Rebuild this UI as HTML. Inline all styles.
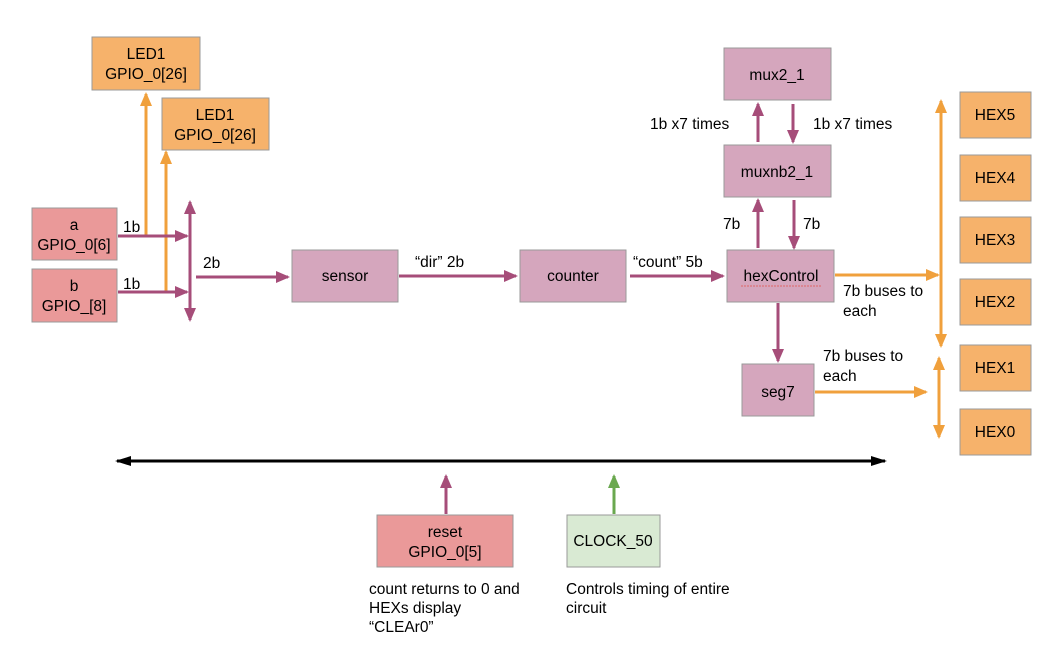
<!DOCTYPE html>
<html><head><style>body{margin:0;background:#fff}svg{display:block}text{font-family:"Liberation Sans",Arial,sans-serif;font-size:15.5px;fill:#000}</style></head><body>
<svg width="1048" height="658" viewBox="0 0 1048 658">
<defs>
<marker id="p" markerWidth="14" markerHeight="14" refX="12" refY="7" orient="auto-start-reverse" markerUnits="userSpaceOnUse" viewBox="0 0 14 14"><path d="M0,1 L14,7 L0,13 z" fill="#a64d79"/></marker>
<marker id="o" markerWidth="14" markerHeight="14" refX="12" refY="7" orient="auto-start-reverse" markerUnits="userSpaceOnUse" viewBox="0 0 14 14"><path d="M0,1 L14,7 L0,13 z" fill="#f0a03c"/></marker>
<marker id="k" markerWidth="16" markerHeight="14" refX="14" refY="7" orient="auto-start-reverse" markerUnits="userSpaceOnUse" viewBox="0 0 16 14"><path d="M0,2 L16,7 L0,12 z" fill="#000"/></marker>
<marker id="g" markerWidth="14" markerHeight="14" refX="12" refY="7" orient="auto-start-reverse" markerUnits="userSpaceOnUse" viewBox="0 0 14 14"><path d="M0,1 L14,7 L0,13 z" fill="#6aa84f"/></marker>
</defs>
<g stroke="#999" stroke-width="1">
<rect x="92" y="37" width="108" height="53" fill="#f6b26b"/>
<rect x="162" y="98" width="107" height="52" fill="#f6b26b"/>
<rect x="32" y="208" width="85" height="52" fill="#ea9999"/>
<rect x="32" y="269" width="85" height="53" fill="#ea9999"/>
<rect x="292" y="250" width="106" height="52" fill="#d5a6bd"/>
<rect x="520" y="250" width="106" height="52" fill="#d5a6bd"/>
<rect x="727" y="250" width="107" height="52" fill="#d5a6bd"/>
<rect x="724" y="48" width="107" height="52" fill="#d5a6bd"/>
<rect x="724" y="145" width="107" height="52" fill="#d5a6bd"/>
<rect x="742" y="364" width="72" height="52" fill="#d5a6bd"/>
<rect x="960" y="92" width="71" height="46" fill="#f6b26b"/>
<rect x="960" y="155" width="71" height="46" fill="#f6b26b"/>
<rect x="960" y="217" width="71" height="46" fill="#f6b26b"/>
<rect x="960" y="279" width="71" height="46" fill="#f6b26b"/>
<rect x="960" y="345" width="71" height="46" fill="#f6b26b"/>
<rect x="960" y="409" width="71" height="46" fill="#f6b26b"/>
<rect x="377" y="515" width="136" height="52" fill="#ea9999"/>
<rect x="567" y="515" width="93" height="52" fill="#d9ead3"/>
</g>
<g fill="none" stroke-width="3">
<path d="M146,236 V94" stroke="#f0a03c" marker-end="url(#o)"/>
<path d="M166,292 V152" stroke="#f0a03c" marker-end="url(#o)"/>
<path d="M118,236 H187" stroke="#a64d79" marker-end="url(#p)"/>
<path d="M118,292 H187" stroke="#a64d79" marker-end="url(#p)"/>
<path d="M190,202 V320" stroke="#a64d79" marker-start="url(#p)" marker-end="url(#p)"/>
<path d="M196,277 H288" stroke="#a64d79" marker-end="url(#p)"/>
<path d="M399,276 H516" stroke="#a64d79" marker-end="url(#p)"/>
<path d="M630,276 H723" stroke="#a64d79" marker-end="url(#p)"/>
<path d="M758,142 V104" stroke="#a64d79" marker-end="url(#p)"/>
<path d="M793,104 V142" stroke="#a64d79" marker-end="url(#p)"/>
<path d="M758,248 V200" stroke="#a64d79" marker-end="url(#p)"/>
<path d="M794,200 V248" stroke="#a64d79" marker-end="url(#p)"/>
<path d="M778,303 V361" stroke="#a64d79" marker-end="url(#p)"/>
<path d="M835,275 H938" stroke="#f0a03c" marker-end="url(#o)"/>
<path d="M815,392 H926" stroke="#f0a03c" marker-end="url(#o)"/>
<path d="M941,101 V346" stroke="#f0a03c" marker-start="url(#o)" marker-end="url(#o)"/>
<path d="M939,358 V437" stroke="#f0a03c" marker-start="url(#o)" marker-end="url(#o)"/>
<path d="M117,461 H885" stroke="#000" marker-start="url(#k)" marker-end="url(#k)"/>
<path d="M446,514 V476" stroke="#a64d79" marker-end="url(#p)"/>
<path d="M614,514 V476" stroke="#6aa84f" marker-end="url(#g)"/>
</g>
<g text-anchor="middle">
<text x="146" y="59">LED1</text><text x="146" y="79">GPIO_0[26]</text>
<text x="215" y="120">LED1</text><text x="215" y="140">GPIO_0[26]</text>
<text x="74" y="230">a</text><text x="74" y="250">GPIO_0[6]</text>
<text x="74" y="291">b</text><text x="74" y="311">GPIO_[8]</text>
<text x="345" y="281">sensor</text>
<text x="573" y="281">counter</text>
<text x="781" y="281">hexControl</text>
<text x="777" y="80">mux2_1</text>
<text x="777" y="177">muxnb2_1</text>
<text x="778" y="397">seg7</text>
<text x="995" y="120">HEX5</text><text x="995" y="183">HEX4</text><text x="995" y="245">HEX3</text>
<text x="995" y="307">HEX2</text><text x="995" y="373">HEX1</text><text x="995" y="437">HEX0</text>
<text x="445" y="537">reset</text><text x="445" y="557">GPIO_0[5]</text>
<text x="613" y="546">CLOCK_50</text>
</g>
<path d="M741,286 H821" stroke="#e06666" stroke-width="1" stroke-dasharray="2,1" fill="none"/>
<text x="123" y="232">1b</text><text x="123" y="289">1b</text><text x="203" y="268">2b</text>
<text x="415" y="267">“dir” 2b</text>
<text x="633" y="267">“count” 5b</text>
<text x="650" y="129">1b x7 times</text>
<text x="813" y="129">1b x7 times</text>
<text x="723" y="229">7b</text><text x="803" y="229">7b</text>
<text x="843" y="296">7b buses to</text><text x="843" y="316">each</text>
<text x="823" y="361">7b buses to</text><text x="823" y="381">each</text>
<g style="font-size:14px">
<text x="369" y="594">count returns to 0 and</text><text x="369" y="613">HEXs display</text><text x="369" y="632">“CLEAr0”</text>
<text x="566" y="594">Controls timing of entire</text><text x="566" y="613">circuit</text>
</g>
</svg>
</body></html>
